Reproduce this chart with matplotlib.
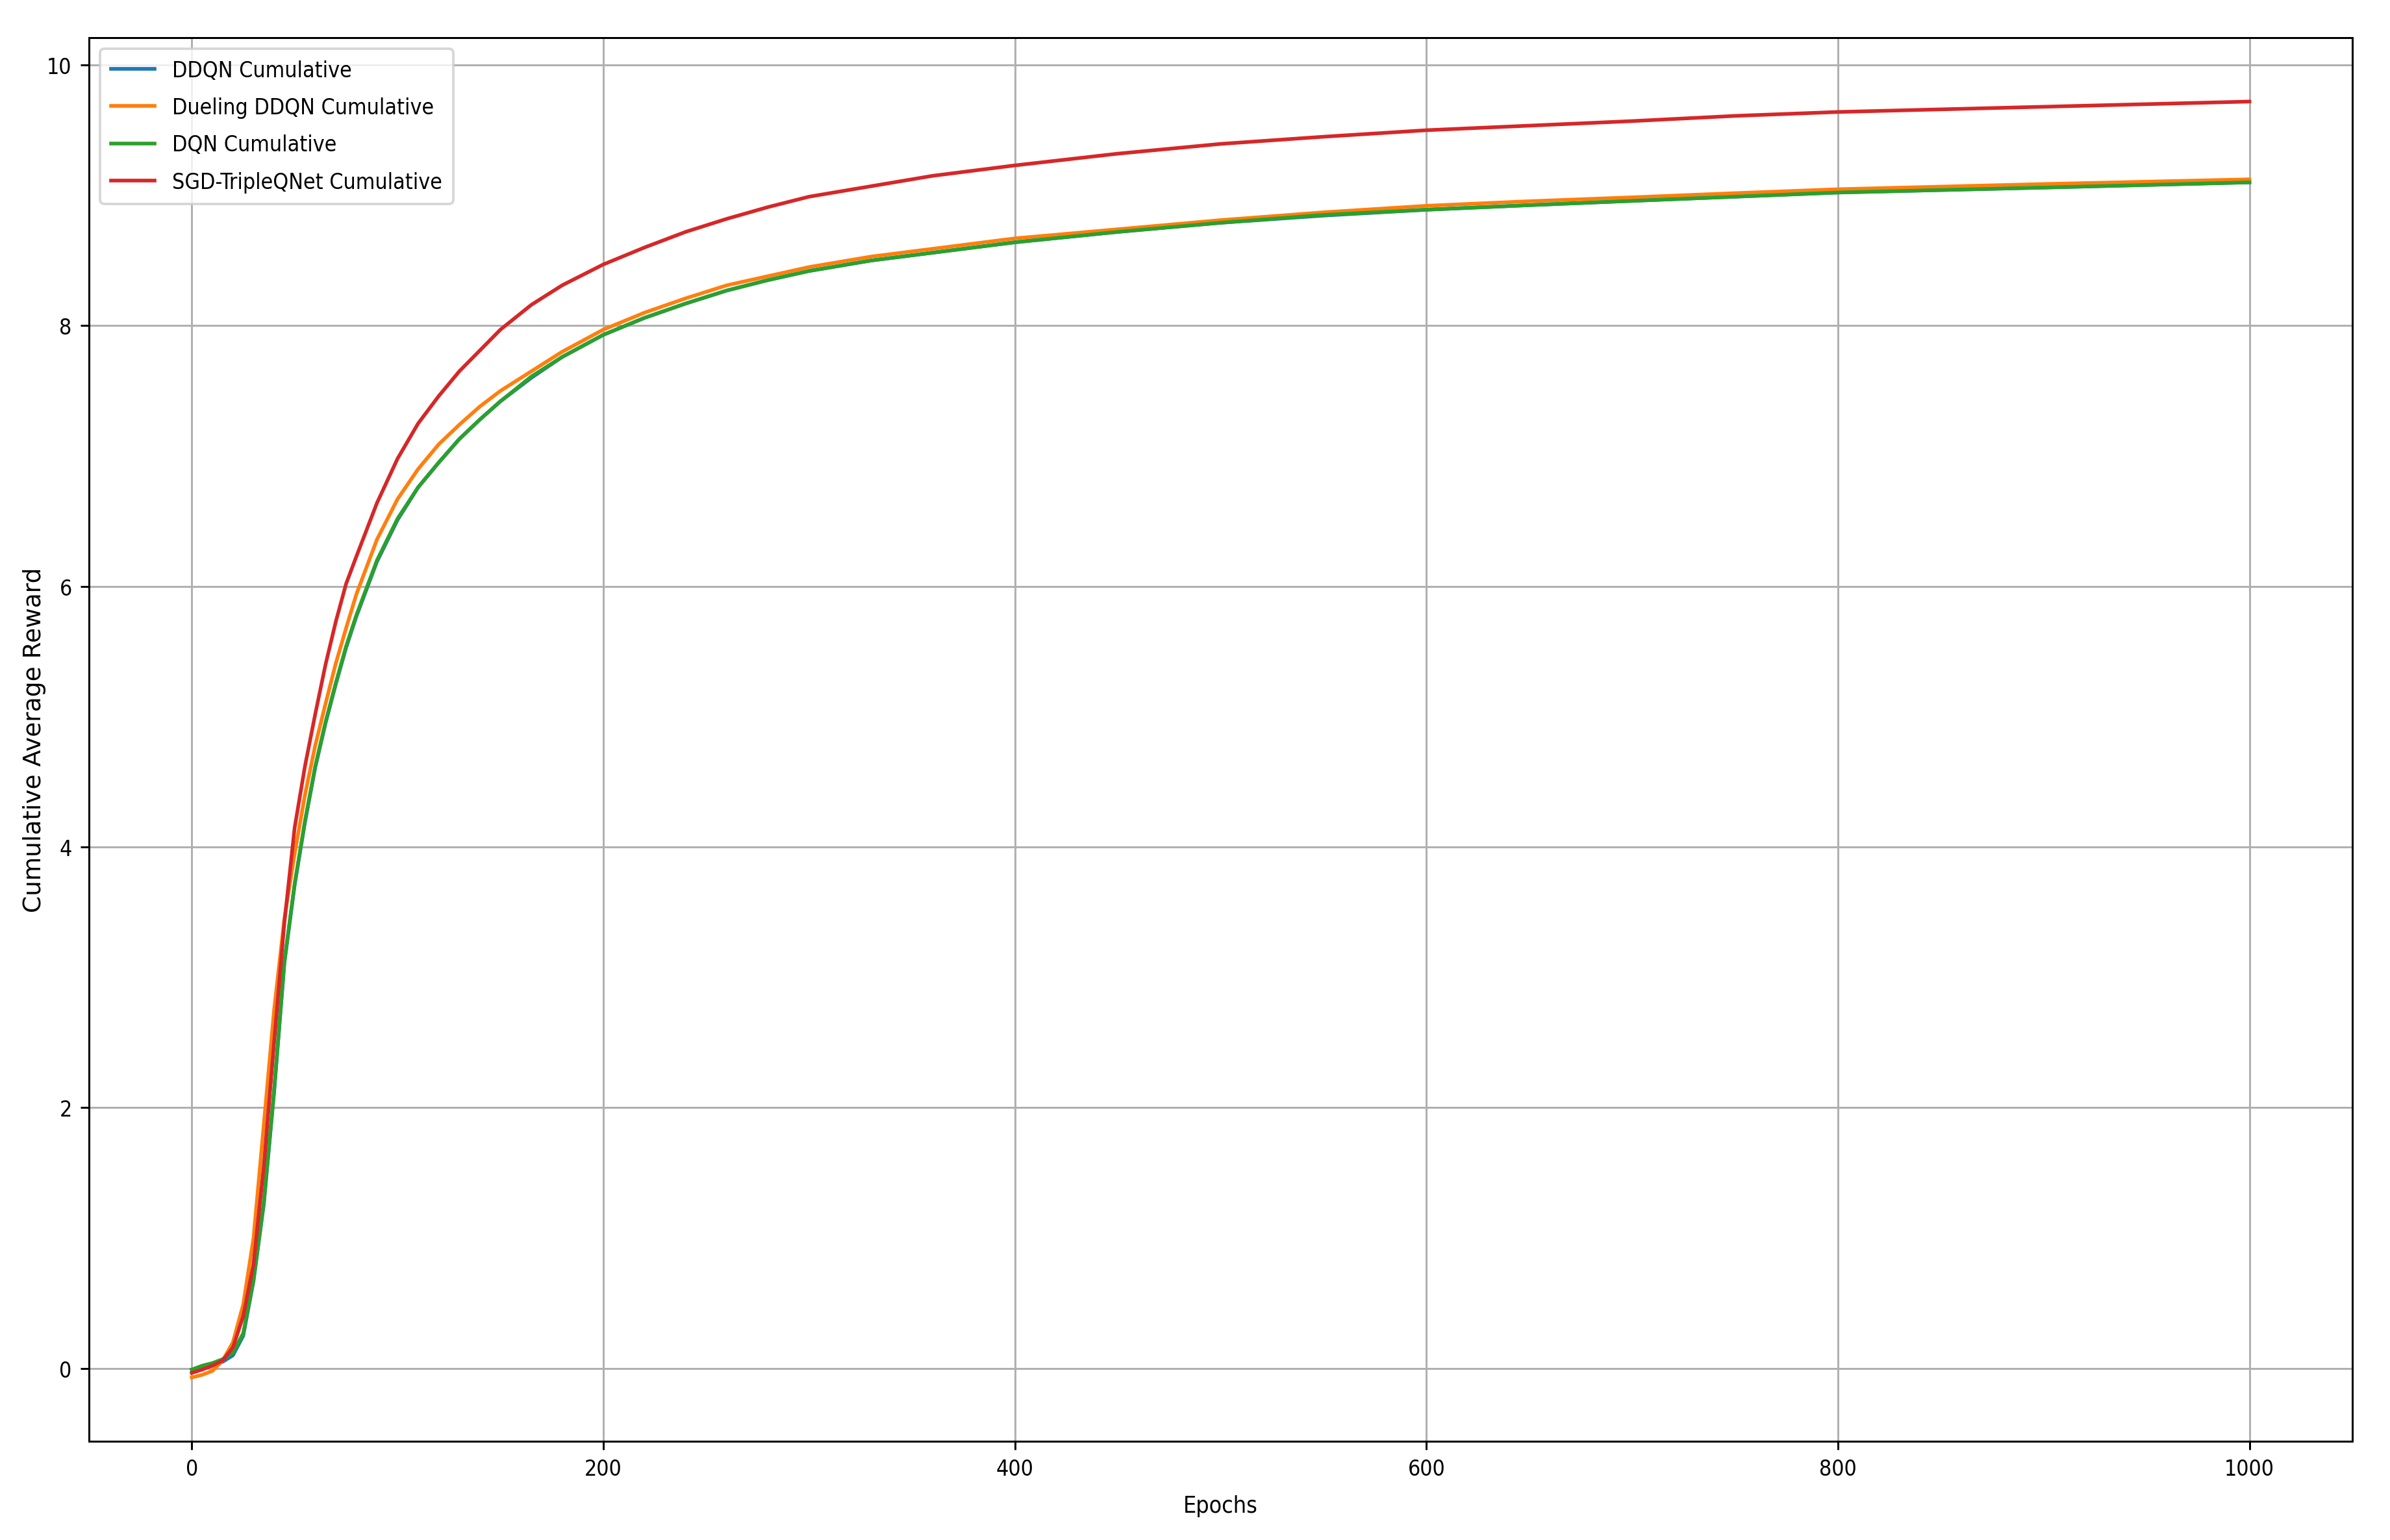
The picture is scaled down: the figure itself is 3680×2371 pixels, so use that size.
import matplotlib
matplotlib.use("Agg")
import matplotlib.pyplot as plt
from matplotlib.font_manager import FontProperties

epochs = [0, 5, 10, 15, 20, 25, 30, 35, 40, 45, 50, 55, 60, 65, 70, 75, 80, 90,
          100, 110, 120, 130, 140, 150, 165, 180, 200, 220, 240, 260, 280, 300,
          330, 360, 400, 450, 500, 550, 600, 650, 700, 750, 800, 900, 1000]

ddqn = [-0.01, 0.01, 0.03, 0.05, 0.10, 0.25, 0.67, 1.26, 2.12, 3.11, 3.71, 4.19, 4.61, 4.95, 5.25, 5.53, 5.77, 6.19,
        6.51, 6.76, 6.95, 7.13, 7.28, 7.42, 7.60, 7.76, 7.93, 8.06, 8.17, 8.27, 8.35, 8.42,
        8.50, 8.56, 8.64, 8.72, 8.79, 8.845, 8.89, 8.925, 8.958, 8.99, 9.022, 9.06, 9.10]

dueling_ddqn = [-0.07, -0.05, -0.02, 0.06, 0.20, 0.49, 1.00, 1.87, 2.75, 3.45, 3.95, 4.40, 4.78, 5.10, 5.41, 5.68, 5.94, 6.36,
                6.67, 6.90, 7.09, 7.24, 7.38, 7.50, 7.65, 7.80, 7.97, 8.10, 8.21, 8.31, 8.38, 8.45,
                8.53, 8.59, 8.67, 8.74, 8.81, 8.87, 8.92, 8.955, 8.985, 9.017, 9.047, 9.087, 9.123]

dqn = [-0.01, 0.02, 0.04, 0.07, 0.12, 0.27, 0.68, 1.27, 2.13, 3.12, 3.72, 4.20, 4.62, 4.96, 5.26, 5.54, 5.78, 6.20,
       6.52, 6.76, 6.95, 7.13, 7.28, 7.42, 7.61, 7.76, 7.93, 8.06, 8.17, 8.27, 8.35, 8.42,
       8.50, 8.56, 8.64, 8.72, 8.79, 8.85, 8.89, 8.925, 8.958, 8.99, 9.022, 9.06, 9.10]

sgd_triple = [-0.035, -0.01, 0.02, 0.06, 0.16, 0.40, 0.80, 1.55, 2.50, 3.42, 4.15, 4.62, 5.02, 5.40, 5.73, 6.02, 6.23, 6.64,
              6.98, 7.25, 7.46, 7.65, 7.81, 7.97, 8.16, 8.31, 8.47, 8.60, 8.72, 8.82, 8.91, 8.99,
              9.07, 9.15, 9.23, 9.32, 9.395, 9.45, 9.50, 9.535, 9.57, 9.61, 9.64, 9.68, 9.72]

labels = ['DDQN Cumulative', 'Dueling DDQN Cumulative', 'DQN Cumulative', 'SGD-TripleQNet Cumulative']

plt.rcParams['font.stretch'] = 'condensed'
plt.rcParams['xtick.labelsize'] = 9
plt.rcParams['ytick.labelsize'] = 9

fig, ax = plt.subplots(figsize=(13.63, 8.785), dpi=270)
fig.subplots_adjust(left=0.0372, right=0.9842, bottom=0.0641, top=0.9751)

ax.plot(epochs, ddqn, label=labels[0])
ax.plot(epochs, dueling_ddqn, label=labels[1])
ax.plot(epochs, dqn, label=labels[2])
ax.plot(epochs, sgd_triple, label=labels[3])

ax.set_xlabel("Epochs", fontsize=9.5, labelpad=6.2)
ax.set_ylabel("Cumulative Average Reward", labelpad=0.3,
              fontproperties=FontProperties(family='DejaVu Sans', stretch='normal', size=10))
ax.legend(loc="upper left", fontsize=9, labelspacing=0.72, borderpad=0.5)
ax.grid(True)

plt.savefig("out.png", dpi=270)
